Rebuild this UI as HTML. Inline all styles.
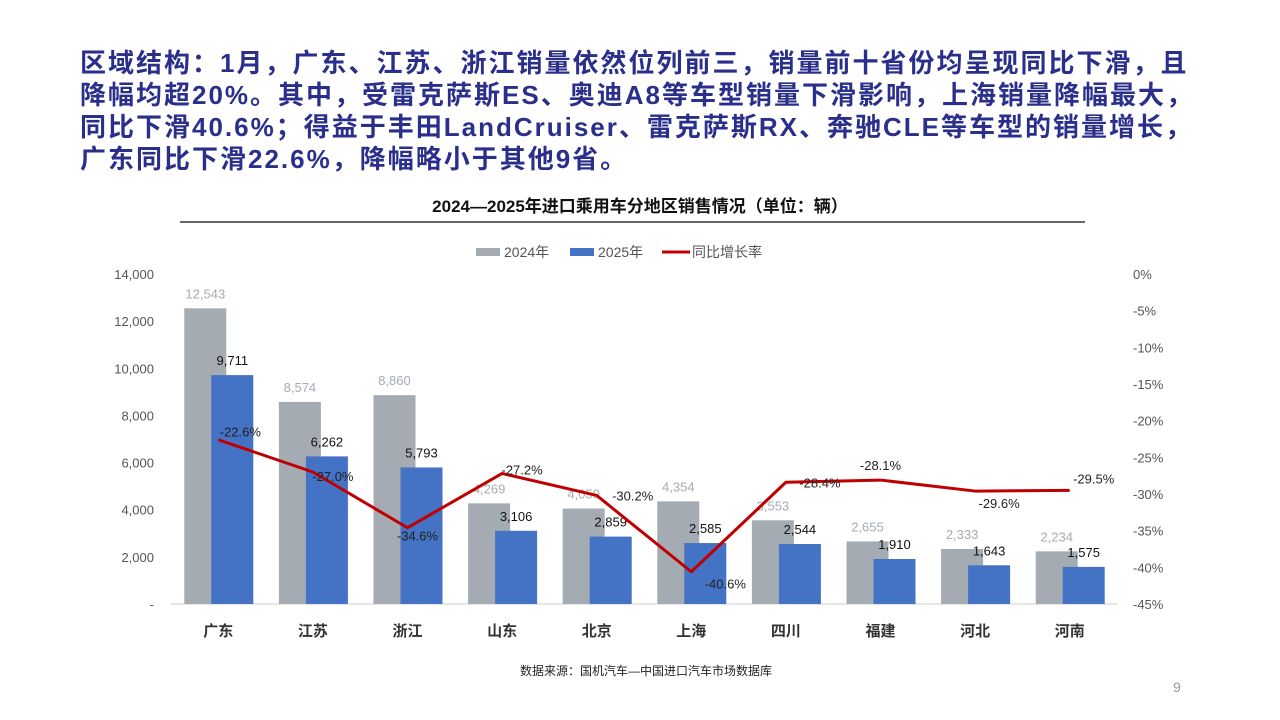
<!DOCTYPE html>
<html><head><meta charset="utf-8"><style>
body{margin:0;width:1280px;height:720px;background:#fff;overflow:hidden;font-family:"Liberation Sans","Noto Sans CJK SC",sans-serif;position:relative}
#hdr{position:absolute;left:80px;top:47px;width:1190px;font-size:26px;font-weight:bold;color:#2a2f8c;line-height:32px;white-space:nowrap;letter-spacing:2px}
#ct{position:absolute;left:0;width:1280px;top:192px;text-align:center;font-size:17px;font-weight:bold;color:#111}
#src{position:absolute;left:0;width:1292px;top:662px;text-align:center;font-size:12px;color:#222}
#pg{position:absolute;left:1173px;top:679px;font-size:14px;color:#999}
svg{position:absolute;left:0;top:0}
</style></head><body>
<div id="hdr">区域结构：1月，广东、江苏、浙江销量依然位列前三，销量前十省份均呈现同比下滑，且<br>降幅均超20%。其中，受雷克萨斯ES、奥迪A8等车型销量下滑影响，上海销量降幅最大，<br>同比下滑40.6%；得益于丰田LandCruiser、雷克萨斯RX、奔驰CLE等车型的销量增长，<br>广东同比下滑22.6%，降幅略小于其他9省。</div>
<div id="ct">2024—2025年进口乘用车分地区销售情况（单位：辆）</div>
<svg id="chart" width="1280" height="720"></svg>
<div id="src">数据来源：国机汽车—中国进口汽车市场数据库</div>
<div id="pg">9</div>
<script>
const categories=["广东","江苏","浙江","山东","北京","上海","四川","福建","河北","河南"];
const sales2024=[12543,8574,8860,4269,4050,4354,3553,2655,2333,2234];
const sales2025=[9711,6262,5793,3106,2859,2585,2544,1910,1643,1575];
const growth=[-22.6,-27.0,-34.6,-27.2,-30.2,-40.6,-28.4,-28.1,-29.6,-29.5];
const leftTicks=[0,2000,4000,6000,8000,10000,12000,14000];
const rightTicks=[0,-5,-10,-15,-20,-25,-30,-35,-40,-45];
const lblOff=[[22,-8],[20,4],[10,8],[20,-4],[36,0],[34,12],[34,0],[0,-15],[24,12],[24,-12]];
const NS="http://www.w3.org/2000/svg",svg=document.getElementById('chart');
function mk(t,a,p){const e=document.createElementNS(NS,t);for(const k in a)e.setAttribute(k,a[k]);(p||svg).appendChild(e);return e;}
const yTop=274,bot=604,x0=171,step=94.6;
const yL=v=>bot-v/14000*(bot-yTop);
const yR=v=>yTop-v/45*(bot-yTop);
const xc=i=>x0+step*(i+0.5);
const fmt=v=>v.toLocaleString('en-US');
let e=mk('line',{x1:180,y1:222,x2:1085,y2:222,stroke:'#333','stroke-width':1.5});

e=mk('rect',{x:476,y:248,width:24,height:8,fill:'#a5abb2'});
e=mk('text',{x:504,y:257,'font-size':14,fill:'#555'});e.textContent='2024年';
e=mk('rect',{x:570,y:248,width:24,height:8,fill:'#4472c4'});
e=mk('text',{x:598,y:257,'font-size':14,fill:'#555'});e.textContent='2025年';
e=mk('line',{x1:662,y1:252,x2:690,y2:252,stroke:'#c00000','stroke-width':3});
e=mk('text',{x:692,y:257,'font-size':14,fill:'#555'});e.textContent='同比增长率';
leftTicks.forEach(v=>{const t=mk('text',{x:154,y:yL(v)+5,'font-size':13,fill:'#555','text-anchor':'end'});t.textContent=v===0?'-':fmt(v);
});
rightTicks.forEach(v=>{const t=mk('text',{x:1133,y:yR(v)+5,'font-size':13,fill:'#555'});t.textContent=v+'%';
});
e=mk('line',{x1:x0,y1:bot,x2:x0+step*10,y2:bot,stroke:'#ccc'});
categories.forEach((c,i)=>{
 const cx=xc(i);
 let r=mk('rect',{x:cx-34,y:yL(sales2024[i]),width:42,height:bot-yL(sales2024[i]),fill:'#a5abb2'});
 
 r=mk('rect',{x:cx-7,y:yL(sales2025[i]),width:42,height:bot-yL(sales2025[i]),fill:'#4472c4'});
 
 let t=mk('text',{x:cx-13,y:yL(sales2024[i])-10,'font-size':13,fill:'#a5abb2','text-anchor':'middle'});t.textContent=fmt(sales2024[i]);
 
 t=mk('text',{x:cx+14,y:yL(sales2025[i])-10,'font-size':13,fill:'#111','text-anchor':'middle'});t.textContent=fmt(sales2025[i]);
 
 t=mk('text',{x:cx,y:636,'font-size':15,'font-weight':'bold',fill:'#333','text-anchor':'middle'});t.textContent=c;
 
});
const pts=growth.map((g,i)=>xc(i)+','+yR(g)).join(' ');
e=mk('polyline',{points:pts,fill:'none',stroke:'#c00000','stroke-width':3,'stroke-linejoin':'round'});

growth.forEach((g,i)=>{const t=mk('text',{x:xc(i)+lblOff[i][0],y:yR(g)+lblOff[i][1]+5,'font-size':13,fill:'#222','text-anchor':'middle'});
t.textContent=g.toFixed(1)+'%';});
</script>
</body></html>
